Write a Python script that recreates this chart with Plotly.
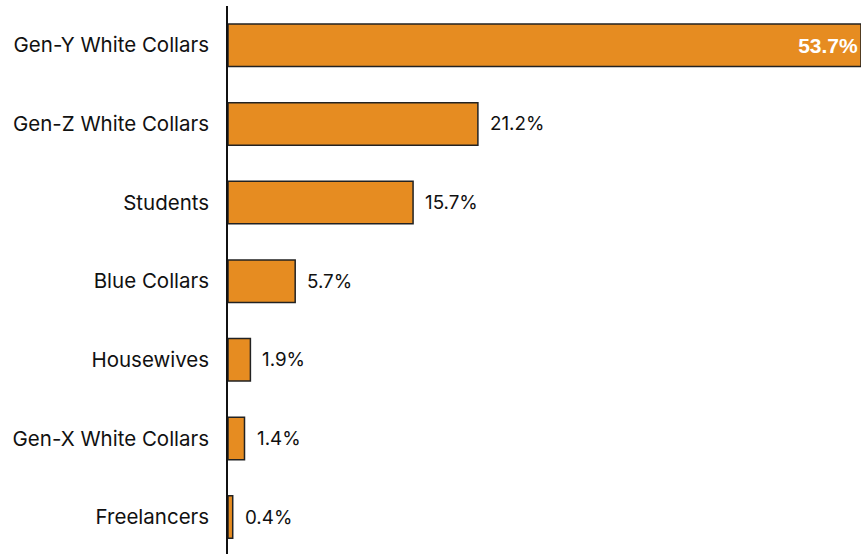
import plotly.graph_objects as go

categories = ["Gen-Y White Collars", "Gen-Z White Collars", "Students", "Blue Collars",
              "Housewives", "Gen-X White Collars", "Freelancers"]
shares = [53.7, 21.2, 15.7, 5.7, 1.9, 1.4, 0.4]
value_labels = ["53.7%", "21.2%", "15.7%", "5.7%", "1.9%", "1.4%", "0.4%"]

ORANGE = "#E68C21"
LABEL_FONT = "Inter"

# the widest bar carries its label inside; the rest are labelled just past the bar end
inside_text = [t if i == 0 else "" for i, t in enumerate(value_labels)]

fig = go.Figure(go.Bar(
    x=shares,
    y=categories,
    orientation="h",
    marker=dict(color=ORANGE, line=dict(color="#222222", width=1.5)),
    text=inside_text,
    textposition="inside",
    insidetextanchor="end",
    insidetextfont=dict(family="Liberation Sans", size=21, color="white", weight="bold"),
    hoverinfo="skip",
))

for i, (cat, val, lab) in enumerate(zip(categories, shares, value_labels)):
    if i == 0:
        continue
    fig.add_annotation(
        x=val, y=cat, text=lab, showarrow=False,
        xanchor="left", yanchor="middle", xshift=10,
        font=dict(family=LABEL_FONT, size=18.8, color="#111111"),
    )

fig.update_layout(
    width=861, height=554,
    margin=dict(l=228, r=0, t=6, b=0),
    paper_bgcolor="white", plot_bgcolor="white",
    bargap=0.46,
    showlegend=False,
    font=dict(family=LABEL_FONT, size=20.5, color="#111111"),
)
fig.update_xaxes(range=[0, 53.7], visible=False, showgrid=False, zeroline=False)
fig.update_yaxes(
    range=[6.47, -0.5],
    showline=True, linecolor="#111111", linewidth=1.5,
    showgrid=False, zeroline=False,
    ticks="", ticklabelstandoff=13,
    tickfont=dict(family=LABEL_FONT, size=20.5, color="#111111"),
)

fig.write_html("out.html")
